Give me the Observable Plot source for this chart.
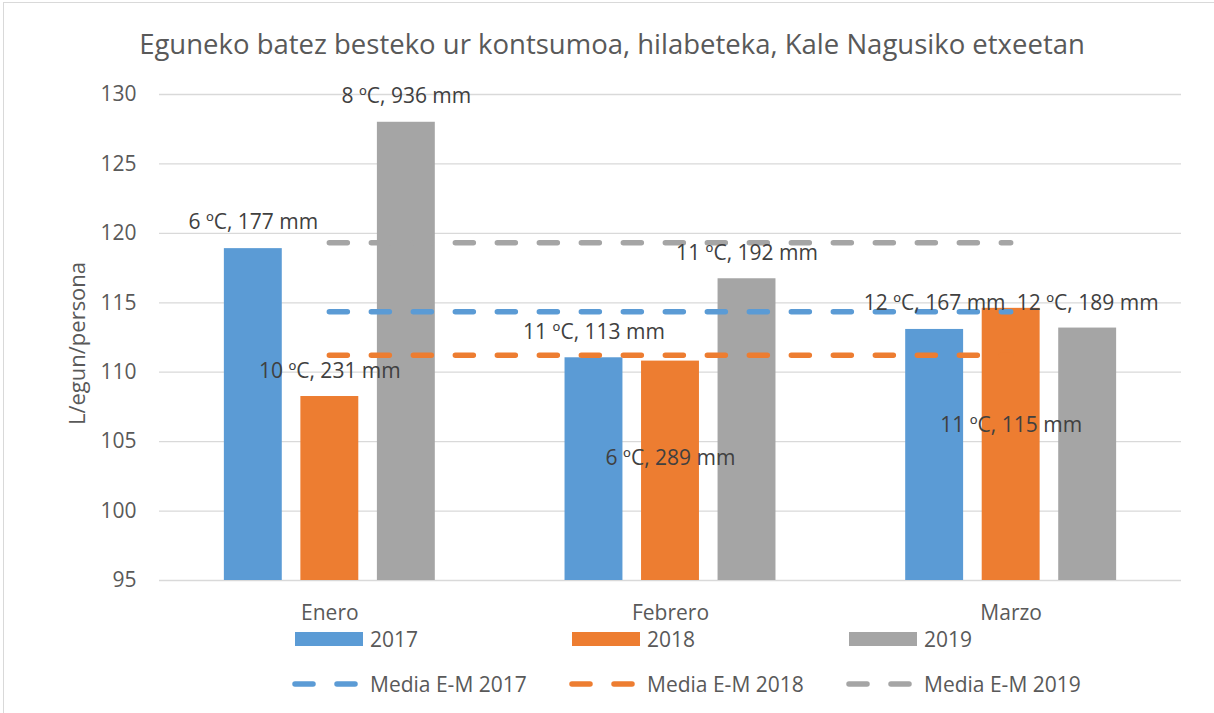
<!DOCTYPE html>
<html>
<head>
<meta charset="utf-8">
<script src="https://cdn.jsdelivr.net/npm/d3@7"></script>
<script src="https://cdn.jsdelivr.net/npm/@observablehq/plot@0.6"></script>
<style>
  html, body { margin: 0; padding: 0; background: #fff; overflow: hidden; }
  body { width: 1214px; height: 713px; position: relative; font-family: "Open Sans", sans-serif; color: #595959; }
  #frame { position: absolute; left: 3px; top: 2px; width: 1400px; height: 900px; border: 1px solid #d9d9d9; pointer-events: none; }
  #title { box-sizing: border-box; height: 70px; padding-top: 19px; line-height: 50px; font-size: 27.5px; text-align: center; padding-left: 10px; white-space: nowrap; }
  #chart svg { display: block; }
  .row { display: flex; align-items: center; padding-left: 295px; height: 28px; }
  .row + .row { margin-top: 17px; }
  .item { display: flex; align-items: center; width: 277px; font-size: 21px; }
  .sw { width: 68px; height: 14px; margin-right: 7px; flex: none; }
  .sw svg { display: block; overflow: visible; }
</style>
</head>
<body>
<div id="frame"></div>
<div id="title">Eguneko batez besteko ur kontsumoa, hilabeteka, Kale Nagusiko etxeetan</div>
<div id="chart"></div>
<div id="legend"></div>
<script>
// ---- data ----
const months = ["Enero", "Febrero", "Marzo"];
const years = ["2017", "2018", "2019"];
const values2017 = [118.9, 111.04, 113.08];
const values2018 = [108.25, 110.8, 114.6];
const values2019 = [128.0, 116.73, 113.18];
const means = [114.35, 111.23, 119.32]; // Media E-M 2017, 2018, 2019
const labels2017 = ["6 ºC, 177 mm", "11 ºC, 113 mm", "12 ºC, 167 mm"];
const labels2018 = ["10 ºC, 231 mm", "6 ºC, 289 mm", "11 ºC, 115 mm"];
const labels2019 = ["8 ºC, 936 mm", "11 ºC, 192 mm", "12 ºC, 189 mm"];
const labelAt2017 = [120.8, 112.85, 115.0];
const labelAt2018 = [110.05, 103.8, 106.2];
const labelAt2019 = [129.85, 118.55, 115.0];
const yTicks = [95, 100, 105, 110, 115, 120, 125, 130];
const meanNames = ["Media E-M 2017", "Media E-M 2018", "Media E-M 2019"];

// ---- styles ----
const colors = ["#5B9BD5", "#ED7D31", "#A5A5A5"];
const groupOffset = 0.2246;  // distance between bars inside a month group (in category units)
const halfBar = 0.085;       // half bar width (in category units)

const seriesValues = [values2017, values2018, values2019];
const seriesLabels = [labels2017, labels2018, labels2019];
const seriesLabelAt = [labelAt2017, labelAt2018, labelAt2019];

const bars = [];
months.forEach((m, mi) => {
  years.forEach((yr, si) => {
    bars.push({
      month: m, mi, year: yr, si,
      value: seriesValues[si][mi],
      label: seriesLabels[si][mi],
      labelAt: seriesLabelAt[si][mi],
      color: colors[si]
    });
  });
});
const center = d => d.mi + (d.si - 1) * groupOffset;
const meanRows = means.map((v, i) => ({value: v, color: colors[i], name: meanNames[i]}));

const chart = Plot.plot({
  width: 1214,
  height: 555,
  marginTop: 24,
  marginBottom: 45,
  marginLeft: 159,
  marginRight: 33,
  style: {fontFamily: "Open Sans", fontSize: "21px", color: "#595959", background: "white", overflow: "visible"},
  x: {type: "linear", domain: [-0.5, months.length - 0.5]},
  y: {domain: [yTicks[0], yTicks[yTicks.length - 1]]},
  marks: [
    Plot.ruleY(yTicks, {stroke: "#d9d9d9", strokeWidth: 1.3}),
    Plot.rectY(bars, {
      x1: d => center(d) - halfBar,
      x2: d => center(d) + halfBar,
      y1: yTicks[0],
      y2: "value",
      fill: "color"
    }),
    Plot.ruleY(meanRows, {
      y: "value",
      x1: 0,
      x2: months.length - 1,
      stroke: "color",
      strokeWidth: 5.5,
      strokeDasharray: "18,24",
      strokeLinecap: "round"
    }),
    Plot.text(bars, {
      x: center,
      y: "labelAt",
      text: "label",
      fill: "#404040",
      fontSize: 21
    }),
    Plot.axisY({ticks: yTicks, tickSize: 0, tickPadding: 23, label: null, fontSize: 21, fill: "#595959"}),
    Plot.axisX({ticks: months.map((_, i) => i), tickFormat: i => months[i], tickSize: 0, tickPadding: 25, label: null, fontSize: 21, fill: "#595959"}),
    Plot.text(["L/egun/persona"], {frameAnchor: "left", textAnchor: "middle", dx: -82, dy: 6, rotate: -90, fill: "#595959", fontSize: 22})
  ]
});
document.getElementById("chart").append(chart);

// ---- legend ----
const legend = document.getElementById("legend");
const row1 = document.createElement("div");
row1.className = "row";
years.forEach((yr, i) => {
  const it = document.createElement("div");
  it.className = "item";
  it.innerHTML = `<div class="sw" style="background:${colors[i]}"></div><span>${yr}</span>`;
  row1.append(it);
});
const row2 = document.createElement("div");
row2.className = "row";
meanRows.forEach(r => {
  const it = document.createElement("div");
  it.className = "item";
  it.innerHTML = `<div class="sw" style="height:14px"><svg width="68" height="14"><line x1="0" x2="60" y1="7" y2="7" stroke="${r.color}" stroke-width="5.5" stroke-dasharray="18,24" stroke-linecap="round"/></svg></div><span>${r.name}</span>`;
  row2.append(it);
});
legend.append(row1, row2);
</script>
</body>
</html>
